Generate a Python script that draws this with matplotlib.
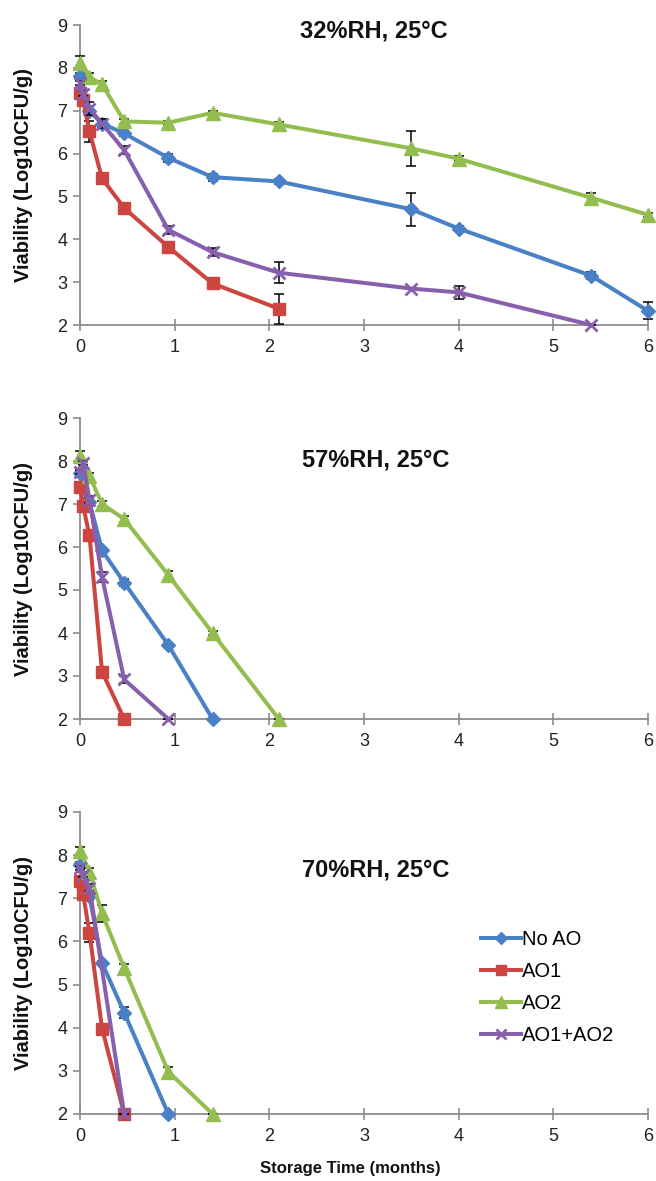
import matplotlib
matplotlib.use("Agg")
import matplotlib.pyplot as plt
from matplotlib.lines import Line2D

plt.rcParams["font.family"] = ["Liberation Sans", "DejaVu Sans"]

# Treatments and their styling
series_names = ["No AO", "AO1", "AO2", "AO1+AO2"]
series_colors = ["#4A80C6", "#CC4541", "#93BE4F", "#8660AC"]
series_markers = ["D", "s", "^", "x"]
series_msizes = [7.5, 9, 10, 9]

# ---- 32% RH, 25 °C : storage time (months), viability (log10 CFU/g), SD ----
t32_noao = [0, 0.1, 0.233, 0.467, 0.933, 1.4, 2.1, 3.5, 4.0, 5.4, 6.0]
v32_noao = [7.80, 7.00, 6.70, 6.47, 5.90, 5.45, 5.35, 4.70, 4.25, 3.15, 2.33]
e32_noao = [0.08, 0.12, 0.10, 0.05, 0.10, 0.08, 0.05, 0.38, 0.06, 0.08, 0.20]

t32_ao1 = [0, 0.033, 0.1, 0.233, 0.467, 0.933, 1.4, 2.1]
v32_ao1 = [7.42, 7.25, 6.52, 5.42, 4.73, 3.82, 2.97, 2.38]
e32_ao1 = [0.05, 0.05, 0.25, 0.05, 0.05, 0.05, 0.05, 0.35]

t32_ao2 = [0, 0.1, 0.233, 0.467, 0.933, 1.4, 2.1, 3.5, 4.0, 5.4, 6.0]
v32_ao2 = [8.12, 7.78, 7.62, 6.75, 6.72, 6.95, 6.68, 6.12, 5.88, 4.97, 4.57]
e32_ao2 = [0.15, 0.10, 0.08, 0.05, 0.05, 0.05, 0.05, 0.40, 0.06, 0.10, 0.05]

t32_mix = [0, 0.033, 0.1, 0.233, 0.467, 0.933, 1.4, 2.1, 3.5, 4.0, 5.4]
v32_mix = [7.65, 7.40, 7.05, 6.70, 6.08, 4.22, 3.70, 3.22, 2.85, 2.76, 2.00]
e32_mix = [0.05, 0.05, 0.15, 0.10, 0.10, 0.10, 0.10, 0.25, 0.00, 0.15, 0.00]

# ---- 57% RH, 25 °C ----
t57_noao = [0, 0.1, 0.233, 0.467, 0.933, 1.4]
v57_noao = [7.72, 7.05, 5.92, 5.17, 3.72, 2.00]
e57_noao = [0.08, 0.10, 0.05, 0.08, 0.05, 0.00]

t57_ao1 = [0, 0.033, 0.1, 0.233, 0.467]
v57_ao1 = [7.40, 6.95, 6.27, 3.10, 2.00]
e57_ao1 = [0.05, 0.10, 0.12, 0.05, 0.00]

t57_ao2 = [0, 0.1, 0.233, 0.467, 0.933, 1.4, 2.1]
v57_ao2 = [8.12, 7.65, 7.00, 6.65, 5.35, 4.00, 2.00]
e57_ao2 = [0.12, 0.08, 0.08, 0.08, 0.10, 0.05, 0.00]

t57_mix = [0, 0.033, 0.1, 0.233, 0.467, 0.933]
v57_mix = [7.75, 7.95, 7.10, 5.30, 2.92, 2.00]
e57_mix = [0.05, 0.05, 0.08, 0.12, 0.08, 0.00]

# ---- 70% RH, 25 °C ----
t70_noao = [0, 0.1, 0.233, 0.467, 0.933]
v70_noao = [7.78, 7.05, 5.50, 4.35, 2.00]
e70_noao = [0.05, 0.08, 0.05, 0.12, 0.00]

t70_ao1 = [0, 0.033, 0.1, 0.233, 0.467]
v70_ao1 = [7.40, 7.10, 6.20, 3.98, 2.00]
e70_ao1 = [0.05, 0.05, 0.22, 0.05, 0.00]

t70_ao2 = [0, 0.1, 0.233, 0.467, 0.933, 1.4]
v70_ao2 = [8.10, 7.62, 6.65, 5.38, 2.98, 2.00]
e70_ao2 = [0.10, 0.08, 0.20, 0.10, 0.10, 0.00]

t70_mix = [0, 0.033, 0.1, 0.467]
v70_mix = [7.70, 7.55, 7.25, 2.00]
e70_mix = [0.05, 0.05, 0.08, 0.00]

panel_titles = ["32%RH, 25°C", "57%RH, 25°C", "70%RH, 25°C"]
panel_data = [
    [(t32_noao, v32_noao, e32_noao), (t32_ao1, v32_ao1, e32_ao1),
     (t32_ao2, v32_ao2, e32_ao2), (t32_mix, v32_mix, e32_mix)],
    [(t57_noao, v57_noao, e57_noao), (t57_ao1, v57_ao1, e57_ao1),
     (t57_ao2, v57_ao2, e57_ao2), (t57_mix, v57_mix, e57_mix)],
    [(t70_noao, v70_noao, e70_noao), (t70_ao1, v70_ao1, e70_ao1),
     (t70_ao2, v70_ao2, e70_ao2), (t70_mix, v70_mix, e70_mix)],
]

x_ticks = [0, 1, 2, 3, 4, 5, 6]
y_ticks = [2, 3, 4, 5, 6, 7, 8, 9]

W, H = 656, 1181
fig = plt.figure(figsize=(W / 100, H / 100), dpi=100)

# pixel layout of the three stacked panels: (top at y=9, bottom at y=2)
x_left, x_right = 80, 648
panel_px = [(25, 325), (418, 719), (812, 1114)]
title_px = [(374, 31), (376, 460), (376, 870)]

spine_col = "#8C8C8C"
for k, (top, bot) in enumerate(panel_px):
    ax = fig.add_axes([x_left / W, 1 - bot / H,
                       (x_right - x_left) / W, (bot - top) / H])
    for i, (t, v, e) in enumerate(panel_data[k]):
        z = 3 + i
        ax.errorbar(t, v, yerr=e, fmt="none", ecolor="black",
                    elinewidth=1.1, capsize=3.5, capthick=1.1,
                    zorder=z - 0.5, clip_on=False)
        ax.plot(t, v, color=series_colors[i], lw=2.9,
                marker=series_markers[i], ms=series_msizes[i],
                mfc=series_colors[i], mec=series_colors[i],
                mew=2.0 if series_markers[i] == "x" else 1.0,
                zorder=z, clip_on=False, solid_joinstyle="round")
    ax.set_xlim(0, 6)
    ax.set_ylim(2, 9)
    ax.set_xticks(x_ticks)
    ax.set_yticks(y_ticks)
    for s in ["top", "right"]:
        ax.spines[s].set_visible(False)
    for s in ["left", "bottom"]:
        ax.spines[s].set_color(spine_col)
        ax.spines[s].set_linewidth(1.3)
    ax.tick_params(axis="y", direction="out", length=5, width=1.2,
                   color=spine_col, labelsize=13, labelcolor="#222222", pad=4)
    ax.tick_params(axis="x", direction="inout", length=8, width=1.2,
                   color=spine_col, labelsize=13, labelcolor="#222222", pad=6)
    ax.patch.set_visible(False)

    tx, ty = title_px[k]
    fig.text(tx / W, 1 - ty / H, panel_titles[k], ha="center", va="center",
             fontsize=17, fontweight="bold", color="#111111")
    fig.text(24 / W, 1 - ((top + bot) / 2) / H, "Viability (Log10CFU/g)",
             rotation=90, ha="center", va="center", fontsize=14.5,
             fontweight="bold", color="#111111")

fig.text(350 / W, 1 - 1168 / H, "Storage Time (months)", ha="center",
         va="center", fontsize=12, fontweight="bold", color="#111111")

handles = [Line2D([0], [0], color=c, lw=2.9, marker=m, ms=ms * 0.8,
                  mfc=c, mec=c, mew=2.0 if m == "x" else 1.0)
           for c, m, ms in zip(series_colors, series_markers, series_msizes)]
fig.legend(handles, series_names, loc="upper left",
           bbox_to_anchor=(481 / W, 1 - 930 / H), frameon=False,
           fontsize=14.5, handlelength=2.0, handletextpad=0.05,
           labelspacing=0.65, borderpad=0, borderaxespad=0)

fig.savefig("out.png", dpi=100)
